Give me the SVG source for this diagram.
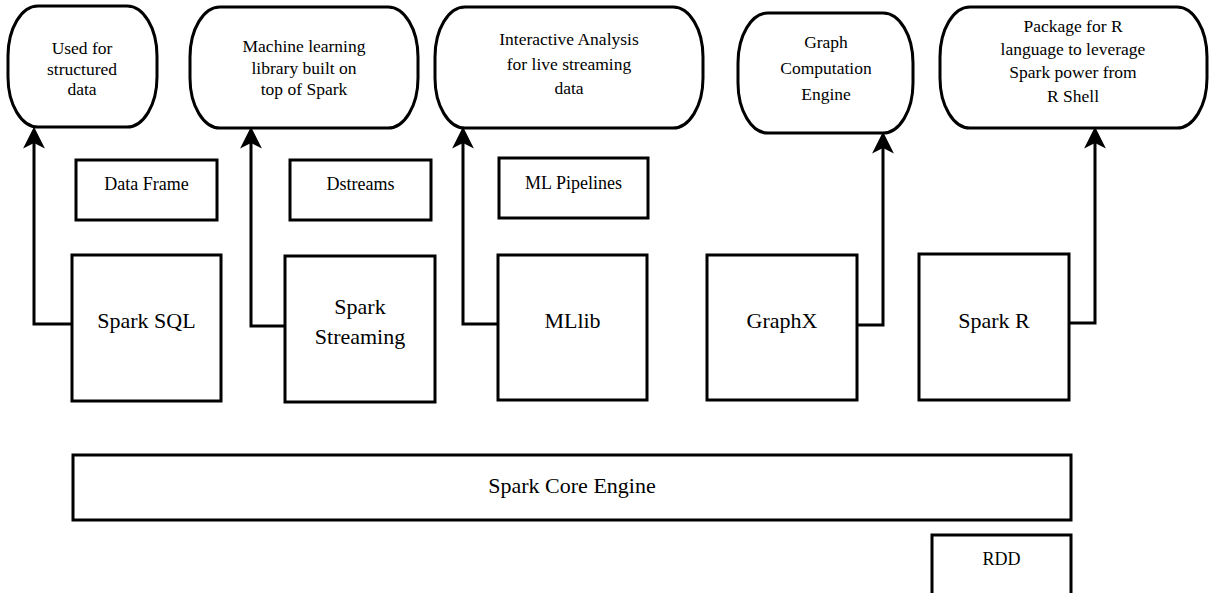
<svg xmlns="http://www.w3.org/2000/svg" width="1211" height="593" viewBox="0 0 1211 593">
  <style>
    .shape { fill: #ffffff; stroke: #000000; stroke-width: 3; }
    .wire { fill: none; stroke: #000000; stroke-width: 3; }
    .label text { fill: #000000; text-anchor: middle; }
    .note { font-size: 17.5px; }
    .small { font-size: 18px; }
    .big { font-size: 22px; }
  </style>
  <defs>
    <marker id="head" markerUnits="userSpaceOnUse" markerWidth="24" markerHeight="24" viewBox="-6 -11 22 22" refX="0" refY="0" orient="auto">
      <path d="M15,0 L-5,-10 L0,0 L-5,10 Z" fill="#000000"/>
    </marker>
  </defs>
  <rect width="1211" height="593" fill="#ffffff"/>

  <g class="label" font-family="'Liberation Serif', Tinos, 'DejaVu Serif', serif">
  <!-- description bubbles -->
  <g id="note-sql">
    <rect class="shape" x="8" y="6" width="149" height="121" rx="30" ry="50"/>
    <text class="note" x="82" y="54">Used for</text>
    <text class="note" x="82" y="75">structured</text>
    <text class="note" x="82" y="95">data</text>
  </g>
  <g id="note-streaming">
    <rect class="shape" x="190" y="7" width="228" height="121" rx="30" ry="50"/>
    <text class="note" x="304" y="52">Machine learning</text>
    <text class="note" x="304" y="74">library built on</text>
    <text class="note" x="304" y="95">top of Spark</text>
  </g>
  <g id="note-mllib">
    <rect class="shape" x="435" y="7" width="268" height="121" rx="30" ry="50"/>
    <text class="note" x="569" y="45">Interactive Analysis</text>
    <text class="note" x="569" y="70">for live streaming</text>
    <text class="note" x="569" y="94">data</text>
  </g>
  <g id="note-graphx">
    <rect class="shape" x="738" y="13" width="175" height="120" rx="30" ry="50"/>
    <text class="note" x="826" y="48">Graph</text>
    <text class="note" x="826" y="74">Computation</text>
    <text class="note" x="826" y="100">Engine</text>
  </g>
  <g id="note-sparkr">
    <rect class="shape" x="940" y="7" width="267" height="121" rx="30" ry="50"/>
    <text class="note" x="1073" y="32">Package for R</text>
    <text class="note" x="1073" y="55">language to leverage</text>
    <text class="note" x="1073" y="78">Spark power from</text>
    <text class="note" x="1073" y="102">R Shell</text>
  </g>

  <!-- abstractions -->
  <g id="dataframe">
    <rect class="shape" x="76" y="160" width="141" height="60"/>
    <text class="small" x="146.5" y="190">Data Frame</text>
  </g>
  <g id="dstreams">
    <rect class="shape" x="290" y="160" width="141" height="60"/>
    <text class="small" x="360.5" y="190">Dstreams</text>
  </g>
  <g id="ml-pipelines">
    <rect class="shape" x="499" y="158" width="149" height="60"/>
    <text class="small" x="573.5" y="189">ML Pipelines</text>
  </g>

  <!-- libraries -->
  <g id="spark-sql">
    <rect class="shape" x="72" y="255" width="149" height="146"/>
    <text class="big" x="146.5" y="328">Spark SQL</text>
  </g>
  <g id="spark-streaming">
    <rect class="shape" x="285" y="256" width="150" height="146"/>
    <text class="big" x="360" y="314">Spark</text>
    <text class="big" x="360" y="344">Streaming</text>
  </g>
  <g id="mllib">
    <rect class="shape" x="498" y="255" width="149" height="145"/>
    <text class="big" x="572.5" y="328">MLlib</text>
  </g>
  <g id="graphx">
    <rect class="shape" x="707" y="255" width="150" height="145"/>
    <text class="big" x="782" y="328">GraphX</text>
  </g>
  <g id="spark-r">
    <rect class="shape" x="919" y="254" width="150" height="146"/>
    <text class="big" x="994" y="328">Spark R</text>
  </g>

  <!-- core -->
  <g id="core-engine">
    <rect class="shape" x="73" y="455" width="998" height="65"/>
    <text class="big" x="572" y="493">Spark Core Engine</text>
  </g>
  <g id="rdd">
    <rect class="shape" x="932" y="535" width="139" height="75"/>
    <text class="small" x="1001.5" y="565">RDD</text>
  </g>
  </g>

  <!-- connectors -->
  <g id="connectors">
    <path class="wire" d="M72,324 H34 V143" marker-end="url(#head)"/>
    <path class="wire" d="M285,326 H251 V143" marker-end="url(#head)"/>
    <path class="wire" d="M498,324 H463 V143" marker-end="url(#head)"/>
    <path class="wire" d="M857,325 H883 V148" marker-end="url(#head)"/>
    <path class="wire" d="M1069,323 H1095 V143" marker-end="url(#head)"/>
  </g>
</svg>
